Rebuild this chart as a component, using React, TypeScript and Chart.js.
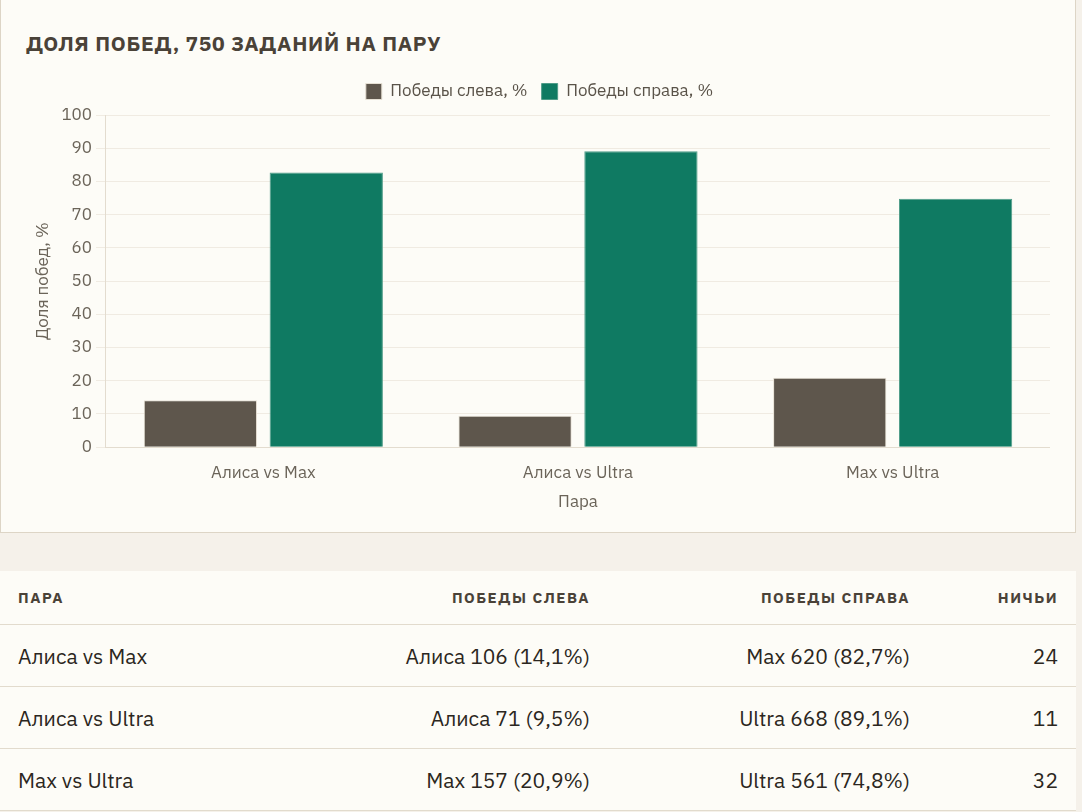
import React, { useEffect, useRef } from 'react';
import { Chart, registerables } from 'chart.js';

Chart.register(...registerables);

const FONT = '"IBM Plex Sans", Inter, "Noto Sans", sans-serif';

const pairs = ['Алиса vs Max', 'Алиса vs Ultra', 'Max vs Ultra'];
const leftWinPct = [14.1, 9.5, 20.9];
const rightWinPct = [82.7, 89.1, 74.8];
const leftNames = ['Алиса', 'Алиса', 'Max'];
const rightNames = ['Max', 'Ultra', 'Ultra'];
const leftWins = [106, 71, 157];
const rightWins = [620, 668, 561];
const draws = [24, 11, 32];

const fmt = (v: number) => v.toFixed(1).replace('.', ',');

// a little extra room under the legend
const legendGap = {
  id: 'legendGap',
  beforeInit(chart: any) {
    const origFit = chart.legend.fit;
    chart.legend.fit = function () {
      origFit.bind(chart.legend)();
      this.height += 5;
    };
  },
};

const WinChart: React.FC = () => {
  const chartRef = useRef<HTMLCanvasElement>(null);
  const chartInstance = useRef<Chart | null>(null);

  useEffect(() => {
    if (!chartRef.current) return;
    if (chartInstance.current) chartInstance.current.destroy();
    const ctx = chartRef.current.getContext('2d');
    if (!ctx) return;

    chartInstance.current = new Chart(ctx, {
      type: 'bar',
      data: {
        labels: pairs,
        datasets: [
          {
            label: 'Победы слева, %',
            data: leftWinPct,
            backgroundColor: '#5e564c',
            borderColor: '#e6e0d4',
            borderWidth: 1,
          },
          {
            label: 'Победы справа, %',
            data: rightWinPct,
            backgroundColor: '#0f7a62',
            borderColor: '#4f9c88',
            borderWidth: 1,
          },
        ],
      },
      options: {
        responsive: true,
        maintainAspectRatio: false,
        animation: false,
        layout: { padding: { left: 3 } },
        plugins: {
          legend: {
            position: 'top',
            labels: {
              boxWidth: 16,
              boxHeight: 16,
              padding: 14,
              color: '#5a5349',
              font: { family: FONT, size: 17 },
            },
          },
          title: { display: false },
          tooltip: { enabled: false },
        },
        scales: {
          y: {
            min: 0,
            max: 100,
            ticks: { stepSize: 10, padding: 4, color: '#6b6459', font: { family: FONT, size: 17 } },
            grid: { color: '#f0ebe2', tickLength: 10 },
            border: { color: '#e3dccf' },
            title: {
              display: true,
              text: 'Доля побед, %',
              color: '#6b6459',
              font: { family: FONT, size: 17 },
            },
          },
          x: {
            ticks: { color: '#6b6459', padding: 8, font: { family: FONT, size: 17 } },
            grid: { display: false },
            border: { color: '#e3dccf' },
            title: {
              display: true,
              text: 'Пара',
              color: '#6b6459',
              padding: { top: 0, bottom: 4 },
              font: { family: FONT, size: 17 },
            },
          },
        },
      },
      plugins: [legendGap],
    });

    return () => {
      if (chartInstance.current) {
        chartInstance.current.destroy();
        chartInstance.current = null;
      }
    };
  }, []);

  return <canvas ref={chartRef} />;
};

const th: React.CSSProperties = {
  fontWeight: 700,
  fontSize: 15,
  letterSpacing: 1.5,
  color: '#4a4238',
  padding: '0 18px',
  height: 53,
  borderBottom: '1px solid #e2dbcd',
  textTransform: 'uppercase',
};

const td: React.CSSProperties = {
  fontSize: 21,
  color: '#2b2620',
  padding: '0 18px',
  height: 61,
  borderBottom: '1px solid #e2dbcd',
};

const App: React.FC = () => {
  useEffect(() => {
    document.body.style.margin = '0';
    document.body.style.background = '#f5f1ea';
  }, []);

  return (
    <div style={{ width: 1076, fontFamily: FONT }}>
      <div
        style={{
          position: 'relative',
          marginTop: -10,
          height: 541,
          background: '#fdfcf7',
          border: '1px solid #ddd5c6',
        }}
      >
        <div
          style={{
            position: 'absolute',
            left: 25,
            top: 38,
            fontSize: 21,
            lineHeight: '28px',
            fontWeight: 700,
            letterSpacing: 0.7,
            color: '#4a4238',
          }}
        >
          ДОЛЯ ПОБЕД, 750 ЗАДАНИЙ НА ПАРУ
        </div>
        <div style={{ position: 'absolute', left: 25, top: 78, width: 1024, height: 447 }}>
          <WinChart />
        </div>
      </div>
      <table
        style={{
          marginTop: 38,
          width: 1076,
          borderCollapse: 'collapse',
          background: '#fdfcf7',
          fontFamily: FONT,
        }}
      >
        <thead>
          <tr>
            <th style={{ ...th, textAlign: 'left', width: 264 }}>Пара</th>
            <th style={{ ...th, textAlign: 'right', width: 272 }}>Победы слева</th>
            <th style={{ ...th, textAlign: 'right', width: 284 }}>Победы справа</th>
            <th style={{ ...th, textAlign: 'right' }}>Ничьи</th>
          </tr>
        </thead>
        <tbody>
          {pairs.map((p, i) => (
            <tr key={p}>
              <td style={{ ...td, textAlign: 'left' }}>{p}</td>
              <td style={{ ...td, textAlign: 'right' }}>
                {leftNames[i]} {leftWins[i]} ({fmt(leftWinPct[i])}%)
              </td>
              <td style={{ ...td, textAlign: 'right' }}>
                {rightNames[i]} {rightWins[i]} ({fmt(rightWinPct[i])}%)
              </td>
              <td style={{ ...td, textAlign: 'right' }}>{draws[i]}</td>
            </tr>
          ))}
        </tbody>
      </table>
    </div>
  );
};

export default App;
